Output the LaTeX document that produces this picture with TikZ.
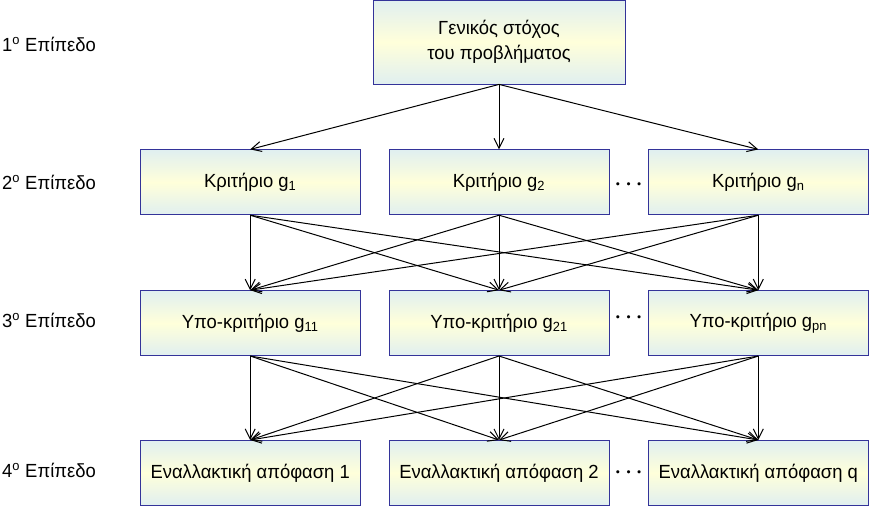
\documentclass[tikz,border=0pt]{standalone}
\usepackage{fontspec}
\setmainfont[FakeStretch=0.97]{Liberation Sans}
\usepackage{xcolor}
\usepackage{tikz}
\usetikzlibrary{positioning,arrows.meta,calc}

\definecolor{boxline}{RGB}{51,51,153}
\definecolor{boxcyan}{RGB}{224,239,240}
\definecolor{boxyellow}{RGB}{255,255,218}

\begin{document}
\begin{tikzpicture}[
    x=1pt, y=-1pt,
    node distance=28pt,
    font=\fontsize{19}{23}\selectfont,
    box/.style={rectangle, draw=boxline, thick, top color=boxcyan,
                bottom color=boxcyan, middle color=boxyellow,
                minimum width=220pt, minimum height=65pt, align=center,
                inner sep=0pt},
    goalbox/.style={box, minimum width=252pt, minimum height=84pt},
    lvl/.style={anchor=west, inner sep=0pt},
    dots/.style={inner sep=0pt, font=\fontsize{21}{23}\selectfont\boldmath},
    arrow/.style={-{Straight Barb[length=10pt,width=10pt]}, line width=1pt}
]
\useasboundingbox (0,0) rectangle (869,507);

% levels 1 and 2
\node[goalbox] (goal) at (499,42) {Γενικός στόχος\\[2pt]του προβλήματος};
\node[box, below=65pt of goal] (g2) {Κριτήριο g\textsubscript{2}};
\node[box, left=28pt of g2] (g1) {Κριτήριο g\textsubscript{1}};
\node[box, right=38.5pt of g2] (gn) {Κριτήριο g\textsubscript{n}};

% level 3
\node[box, below=75pt of g1] (s11) {Υπο-κριτήριο g\textsubscript{11}};
\node[box, below=75pt of g2] (s21) {Υπο-κριτήριο g\textsubscript{21}};
\node[box, below=75pt of gn] (spn) {Υπο-κριτήριο g\textsubscript{pn}};

% level 4
\node[box, below=84pt of s11] (a1) {Εναλλακτική απόφαση 1};
\node[box, below=84pt of s21] (a2) {Εναλλακτική απόφαση 2};
\node[box, below=84pt of spn] (aq) {Εναλλακτική απόφαση q};

\node[dots] (d2) at ($(g2.east)!0.5!(gn.west)+(0,2)$) {$\cdots$};
\node[dots] (d3) at ($(s21.east)!0.5!(spn.west)+(0,-6)$) {$\cdots$};
\node[dots] (d4) at ($(a2.east)!0.5!(aq.west)$) {$\cdots$};

\node[lvl] (lv1) at (2,44) {1\textsuperscript{o} Επίπεδο};
\node[lvl] (lv2) at (2,182) {2\textsuperscript{o} Επίπεδο};
\node[lvl] (lv3) at (2,320) {3\textsuperscript{o} Επίπεδο};
\node[lvl] (lv4) at (2,470) {4\textsuperscript{o} Επίπεδο};

\foreach \b in {g1,g2,gn}
    \draw[arrow] (goal.south) -- (\b.north);
\foreach \a in {g1,g2,gn}
    \foreach \b in {s11,s21,spn}
        \draw[arrow] (\a.south) -- (\b.north);
\foreach \a in {s11,s21,spn}
    \foreach \b in {a1,a2,aq}
        \draw[arrow] (\a.south) -- (\b.north);
\end{tikzpicture}
\end{document}
